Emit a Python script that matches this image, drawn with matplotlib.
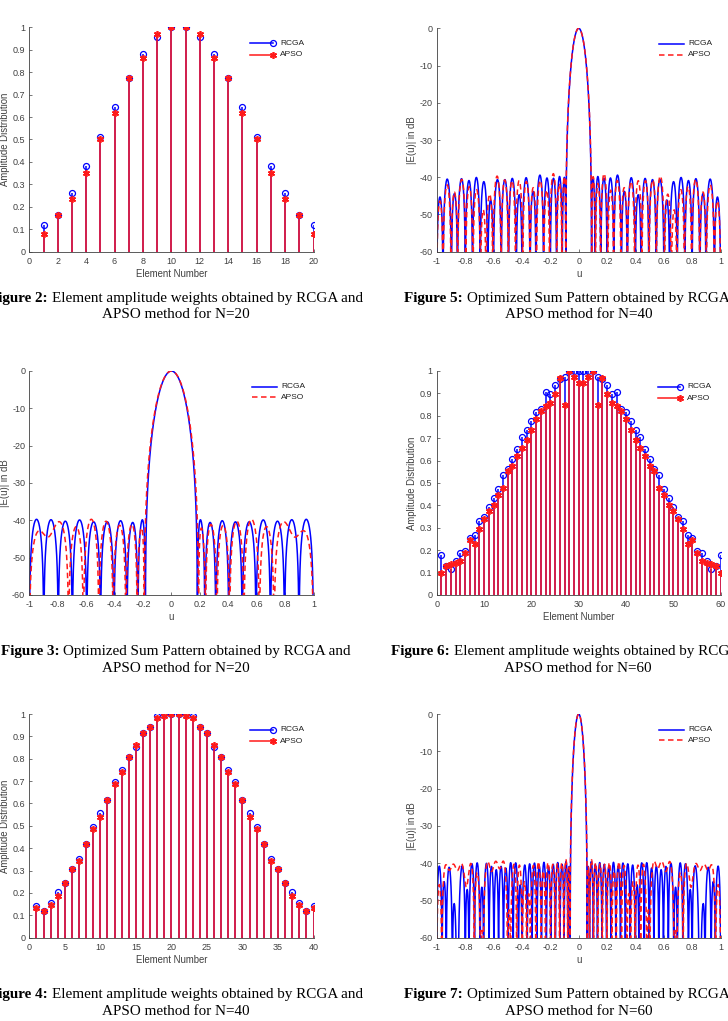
import numpy as np
import matplotlib
matplotlib.use('Agg')
import matplotlib.pyplot as plt

# element amplitude weights, elements 1..N/2 (arrays are symmetric)
rcga20_half = [0.117, 0.163, 0.263, 0.380, 0.511, 0.645, 0.773, 0.881, 0.958, 1.0]
apso20_half = [0.079, 0.163, 0.233, 0.352, 0.500, 0.617, 0.773, 0.862, 0.969, 1.0]

rcga40_half = [0.143, 0.119, 0.153, 0.204, 0.243, 0.306, 0.353, 0.419, 0.496, 0.556,
               0.615, 0.694, 0.750, 0.806, 0.854, 0.914, 0.943, 0.991, 1.0, 1.0]
apso40_half = [0.131, 0.119, 0.145, 0.186, 0.243, 0.306, 0.341, 0.419, 0.484, 0.541,
               0.615, 0.687, 0.741, 0.806, 0.863, 0.914, 0.943, 0.982, 0.990, 1.0]

rcga60_half = [0.180, 0.131, 0.116, 0.153, 0.186, 0.195, 0.254, 0.266, 0.331, 0.346,
               0.391, 0.435, 0.475, 0.536, 0.562, 0.605, 0.652, 0.707, 0.737, 0.777,
               0.817, 0.829, 0.908, 0.899, 0.936, 0.963, 0.975, 1.0, 1.0, 1.0]
apso60_half = [0.097, 0.128, 0.138, 0.143, 0.152, 0.186, 0.247, 0.229, 0.294, 0.339,
               0.376, 0.401, 0.446, 0.478, 0.554, 0.577, 0.621, 0.655, 0.692, 0.736,
               0.785, 0.822, 0.843, 0.855, 0.899, 0.967, 0.848, 1.0, 0.975, 0.945]

u_ticks = [-1, -0.8, -0.6, -0.4, -0.2, 0, 0.2, 0.4, 0.6, 0.8, 1]
u_labels = ['-1', '-0.8', '-0.6', '-0.4', '-0.2', '0', '0.2', '0.4', '0.6', '0.8', '1']
db_ticks = [-60, -50, -40, -30, -20, -10, 0]
amp_ticks = [0, 0.1, 0.2, 0.3, 0.4, 0.5, 0.6, 0.7, 0.8, 0.9, 1]
amp_labels = ['0', '0.1', '0.2', '0.3', '0.4', '0.5', '0.6', '0.7', '0.8', '0.9', '1']

captions = {
    2: ('Element amplitude weights obtained by RCGA and', 'APSO method for N=20'),
    3: ('Optimized Sum Pattern obtained by RCGA and', 'APSO method for N=20'),
    4: ('Element amplitude weights obtained by RCGA and', 'APSO method for N=40'),
    5: ('Optimized Sum Pattern obtained by RCGA and', 'APSO method for N=40'),
    6: ('Element amplitude weights obtained by RCGA and', 'APSO method for N=60'),
    7: ('Optimized Sum Pattern obtained by RCGA and', 'APSO method for N=60'),
}


def full(half):
    h = np.array(half)
    return np.r_[h, h[::-1]]


def pattern_db(w, u):
    n = np.arange(len(w)) - (len(w) - 1) / 2
    af = np.abs(np.exp(1j * np.pi * np.outer(u, n)) @ w)
    return 20 * np.log10(np.maximum(af / af.max(), 1e-9))


W, H = 728, 1021
fig = plt.figure(figsize=(W / 100, H / 100), dpi=100)
plt.rcParams['font.family'] = 'Liberation Sans'
GRAY = '#404040'
BLUE = '#0000ff'
RED = '#ff1a1a'
TICK_FS = 6.5
LAB_FS = 6.9
LEG_FS = 6


def make_ax(x0, y0, x1, y1):
    ax = fig.add_axes([x0 / W, 1 - y1 / H, (x1 - x0) / W, (y1 - y0) / H])
    for s in ['top', 'right']:
        ax.spines[s].set_visible(False)
    for s in ['left', 'bottom']:
        ax.spines[s].set_color(GRAY)
        ax.spines[s].set_linewidth(0.6)
    ax.tick_params(direction='in', length=2, width=0.5, color=GRAY,
                   labelcolor=GRAY, labelsize=TICK_FS)
    ax.tick_params(axis='x', pad=3.5)
    ax.tick_params(axis='y', pad=3)
    return ax


def labels(ax, xl, yl):
    ax.set_xlabel(xl, fontsize=LAB_FS, color=GRAY, va='center')
    ax.set_ylabel(yl, fontsize=LAB_FS, color=GRAY, va='center')
    ax.xaxis.set_label_coords(0.5, -0.1)
    ax.yaxis.set_label_coords(-0.087, 0.5)


def stem_panel(box, rcga, apso, xticks):
    ax = make_ax(*box)
    n = np.arange(1, len(rcga) + 1)
    ax.vlines(n, 0, rcga, color=BLUE, lw=1.1, zorder=2)
    ax.plot(n, rcga, 'o', mfc='none', mec=BLUE, ms=4.3, mew=0.9, zorder=2.1)
    ax.vlines(n, 0, apso, color=RED, lw=1.1, zorder=2.2)
    ax.plot(n, apso, ls='none', marker=(6, 2, 0), mec=RED, ms=5, mew=1.2, zorder=2.3)
    ax.set_xlim(0, len(rcga))
    ax.set_ylim(0, 1)
    ax.set_xticks(xticks)
    ax.set_yticks(amp_ticks)
    ax.set_yticklabels(amp_labels)
    labels(ax, 'Element Number', 'Amplitude Distribution')
    # legend drawn like MATLAB's boxless stem legend
    for yy, c, mk, txt in [(0.93, BLUE, 'o', 'RCGA'), (0.878, RED, (6, 2, 0), 'APSO')]:
        ax.plot([0.778, 0.857], [yy, yy], color=c, lw=1.1, transform=ax.transAxes, clip_on=False)
        if mk == 'o':
            ax.plot([0.857], [yy], 'o', mfc='none', mec=c, ms=4.3, mew=0.9,
                    transform=ax.transAxes, clip_on=False)
        else:
            ax.plot([0.857], [yy], ls='none', marker=mk, mec=c, ms=5, mew=1.2,
                    transform=ax.transAxes, clip_on=False)
        ax.text(0.882, yy, txt, fontsize=LEG_FS, color='#202020', va='center',
                transform=ax.transAxes)
    return ax


def pattern_panel(box, rcga, apso):
    ax = make_ax(*box)
    u = np.linspace(-1, 1, 6001)
    ax.plot(u, pattern_db(rcga, u), color=BLUE, lw=1.1)
    ax.plot(u, pattern_db(apso, u), color=RED, lw=1.1, dashes=(3.6, 2.3))
    ax.set_xlim(-1, 1)
    ax.set_ylim(-60, 0)
    ax.set_xticks(u_ticks)
    ax.set_xticklabels(u_labels)
    ax.set_yticks(db_ticks)
    ax.set_yticklabels([str(t) for t in db_ticks])
    labels(ax, 'u', '|E(u)| in dB')
    for yy, c, ls, txt in [(0.93, BLUE, '-', 'RCGA'), (0.882, RED, '--', 'APSO')]:
        kw = dict(dashes=(3.6, 2.3)) if ls == '--' else {}
        ax.plot([0.782, 0.87], [yy, yy], color=c, lw=1.1, transform=ax.transAxes,
                clip_on=False, **kw)
        ax.text(0.886, yy, txt, fontsize=LEG_FS, color='#202020', va='center',
                transform=ax.transAxes)
    return ax


LX = (29.3, 313.5)
RX = (436.7, 720.7)
stem_panel((LX[0], 27.3, LX[1], 251.7), full(rcga20_half), full(apso20_half), range(0, 21, 2))
pattern_panel((RX[0], 28.3, RX[1], 251.7), full(rcga40_half), full(apso40_half))
pattern_panel((LX[0], 371, LX[1], 595), full(rcga20_half), full(apso20_half))
stem_panel((RX[0], 371, RX[1], 595), full(rcga60_half), full(apso60_half), range(0, 61, 10))
stem_panel((LX[0], 714, LX[1], 937.7), full(rcga40_half), full(apso40_half), range(0, 41, 5))
pattern_panel((RX[0], 714, RX[1], 937.7), full(rcga60_half), full(apso60_half))

# captions: bold "Figure k:" followed by regular text, centred lines
renderer = fig.canvas.get_renderer()
CAP_FS = 10.9


def caption(num, cx, y1, y2):
    rest, line2 = captions[num]
    tb = fig.text(0, 0, 'Figure %d:' % num, fontsize=CAP_FS, fontweight='bold',
                  family='Liberation Serif', va='center')
    tr = fig.text(0, 0, rest, fontsize=CAP_FS, family='Liberation Serif', va='center')
    wb = tb.get_window_extent(renderer).width
    wr = tr.get_window_extent(renderer).width
    ws = 0.25 * CAP_FS * 100 / 72
    x0 = cx - (wb + ws + wr) / 2
    tb.set_position((x0 / W, 1 - y1 / H))
    tr.set_position(((x0 + wb + ws) / W, 1 - y1 / H))
    fig.text(cx / W, 1 - y2 / H, line2, fontsize=CAP_FS, family='Liberation Serif',
             ha='center', va='center')


caption(2, 176, 298, 314)
caption(5, 579, 298, 314)
caption(3, 176, 651.5, 668)
caption(6, 578, 651.5, 668)
caption(4, 176, 994, 1011)
caption(7, 579, 994, 1011)

fig.savefig('out.png', dpi=100)
